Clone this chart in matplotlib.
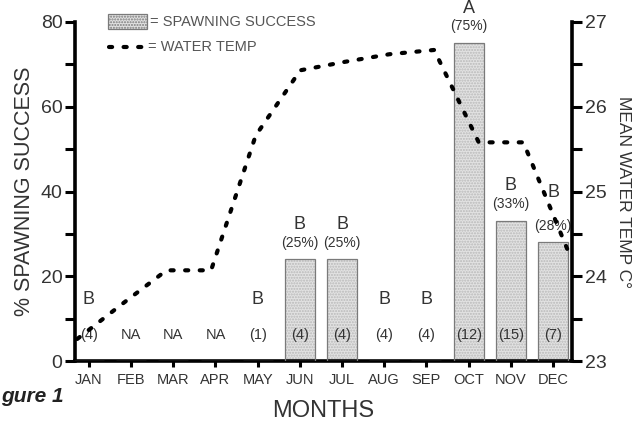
import numpy as np
import matplotlib
matplotlib.use("Agg")
import matplotlib.pyplot as plt
from matplotlib.ticker import MultipleLocator

plt.rcParams["font.family"] = ["Liberation Sans", "DejaVu Sans"]

# --- data ---
months = ["JAN", "FEB", "MAR", "APR", "MAY", "JUN",
          "JUL", "AUG", "SEP", "OCT", "NOV", "DEC"]
spawning = [0, 0, 0, 0, 0, 24, 24, 0, 0, 75, 33, 28]
water_temp = [23.26, 23.67, 24.07, 24.07, 25.66, 26.43,
              26.53, 26.62, 26.67, 25.58, 25.58, 24.30]
letters = ["B", "", "", "", "B", "B", "B", "B", "B", "A", "B", "B"]
pct_labels = ["", "", "", "", "", "(25%)", "(25%)", "", "", "(75%)", "(33%)", "(28%)"]
counts = ["(4)", "NA", "NA", "NA", "(1)", "(4)", "(4)", "(4)", "(4)",
          "(12)", "(15)", "(7)"]

TXT = "#333333"

fig = plt.figure(figsize=(6.42, 4.21), dpi=100)
pos = [75 / 642, 1 - 361 / 421, (572 - 75) / 642, (361 - 22) / 421]
ax = fig.add_axes(pos)

x = np.arange(len(months))

# bars: stippled fill, then outline
ax.bar(x, spawning, width=0.71, color="#e2e2e2", hatch="......",
       edgecolor="#b9b9b9", linewidth=0, zorder=2)
ax.bar(x, spawning, width=0.71, fill=False, edgecolor="#7a7a7a",
       linewidth=0.9, zorder=3)

ax.set_xlim(-0.33, 11.45)
ax.set_ylim(0, 80)

# labels over bars
for i in x:
    h = spawning[i]
    if pct_labels[i]:
        ax.text(i, h + 2.3, pct_labels[i], ha="center", va="bottom",
                fontsize=10, color=TXT, zorder=4)
    if letters[i]:
        if h > 0:
            ly = h + 8.3 + (3.5 if months[i] == "DEC" else 0)
        else:
            ly = 14.5
        ax.text(i, ly, letters[i], ha="center", va="center",
                fontsize=13, color=TXT, clip_on=False, zorder=4)
    ax.text(i, 6.2, counts[i], ha="center", va="center",
            fontsize=10.5, color=TXT, zorder=4)

ax.set_xticks(x)
ax.set_xticklabels(months, fontsize=10.5, color=TXT)
ax.yaxis.set_major_locator(MultipleLocator(20))
ax.yaxis.set_minor_locator(MultipleLocator(10))
ax.tick_params(axis="y", which="both", direction="out", length=7, width=2.2,
               labelsize=14, labelcolor=TXT, pad=2)
ax.tick_params(axis="x", direction="out", length=4, width=2.2, pad=5)

for side in ["top", "right"]:
    ax.spines[side].set_visible(False)
for side in ["left", "bottom"]:
    ax.spines[side].set_linewidth(2.6)

ax.set_ylabel("% SPAWNING SUCCESS", fontsize=15.5, color=TXT, labelpad=4)
ax.set_xlabel("MONTHS", fontsize=17, color=TXT, labelpad=9)

# temperature on overlaid axes (line runs spine to spine)
ax2 = fig.add_axes(pos, facecolor="none")
ax2.plot(np.arange(len(water_temp)), water_temp, color="black", lw=3,
         linestyle=(0, (0.75, 2.75)), dash_capstyle="round", clip_on=False)
ax2.set_xlim(-0.05, 11.09)
ax2.set_ylim(23, 27)
ax2.xaxis.set_visible(False)
ax2.yaxis.tick_right()
ax2.yaxis.set_label_position("right")
ax2.yaxis.set_major_locator(MultipleLocator(1))
ax2.yaxis.set_minor_locator(MultipleLocator(0.5))
ax2.tick_params(axis="y", which="both", direction="out", length=7, width=2.2,
                labelsize=14, labelcolor=TXT, pad=2)
for side in ["top", "left", "bottom"]:
    ax2.spines[side].set_visible(False)
ax2.spines["right"].set_linewidth(2.6)
ax2.set_ylabel("MEAN WATER TEMP C\u00b0", fontsize=12.5, color=TXT,
               rotation=-90, labelpad=18)

# legend drawn by hand
fig.patches.append(plt.Rectangle((108 / 642, 1 - 29 / 421), 39 / 642, 15 / 421,
                                 transform=fig.transFigure, facecolor="#e2e2e2",
                                 hatch="......", edgecolor="#7a7a7a", lw=0.9))
fig.text(150 / 642, 1 - 22 / 421, "= SPAWNING SUCCESS", fontsize=10.5,
         color="#555555", va="center")
fig.lines.append(plt.Line2D([109 / 642, 143 / 642], [1 - 47 / 421, 1 - 47 / 421],
                            transform=fig.transFigure, color="black", lw=3,
                            linestyle=(0, (0.75, 2.75)), dash_capstyle="round"))
fig.text(148 / 642, 1 - 47 / 421, "= WATER TEMP", fontsize=10.5,
         color="#555555", va="center")

# caption fragment at bottom left (the reference shows it cropped)
fig.text(1 / 642, 1 - 397 / 421, "gure 1", fontsize=15, fontweight="bold",
         style="italic", color="#222222", ha="left", va="center")

fig.savefig("out.png", dpi=100)
